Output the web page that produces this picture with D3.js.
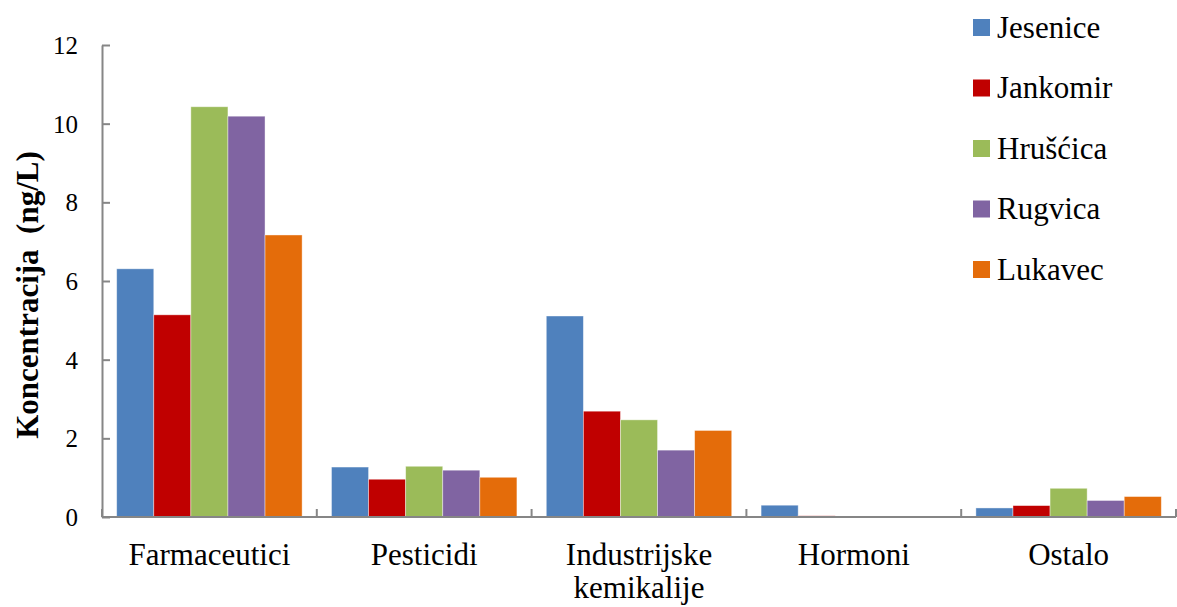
<!DOCTYPE html>
<html><head><meta charset="utf-8">
<script src="https://cdn.jsdelivr.net/npm/d3@7"></script>
</head><body style="margin:0;background:#fff"><svg id="c" width="1177" height="607" style="display:block"></svg>
<script>
const categories = ["Farmaceutici","Pesticidi","Industrijske kemikalije","Hormoni","Ostalo"];
const seriesNames = ["Jesenice","Jankomir","Hrušćica","Rugvica","Lukavec"];
const Jesenice = [6.31, 1.27, 5.11, 0.30, 0.23];
const Jankomir = [5.14, 0.96, 2.69, 0.03, 0.29];
const Hruscica = [10.43, 1.29, 2.47, 0.01, 0.73];
const Rugvica  = [10.19, 1.19, 1.70, 0.02, 0.42];
const Lukavec  = [7.17, 1.01, 2.20, 0.005, 0.52];
const yTicks = [0, 2, 4, 6, 8, 10, 12];
const colors = ["#4F81BD","#C00000","#9BBB59","#8064A2","#E46C0A"];
const seriesValues = [Jesenice, Jankomir, Hruscica, Rugvica, Lukavec];

const FONT = '"Liberation Serif", Tinos, "Times New Roman", serif';
function serif(sel, size, weight) {
  sel.each(function () {
    this.style.setProperty("font-family", FONT, "important");
    this.style.setProperty("font-size", size + "px", "important");
    if (weight) this.style.setProperty("font-weight", weight, "important");
  });
  return sel;
}

const svg = d3.select("#c");
const x0 = d3.scaleBand().domain(categories).range([102, 1176]).paddingInner(0).paddingOuter(0);
const x1 = d3.scaleBand().domain(seriesNames).range([0, x0.bandwidth()]).paddingInner(0).paddingOuter(0.396);
const y = d3.scaleLinear().domain([0, 12]).range([517, 45]);

// text first (titles, labels, legend)
categories.forEach(c => {
  const words = c === "Industrijske kemikalije" ? ["Industrijske", "kemikalije"] : [c];
  const cx = x0(c) + x0.bandwidth() / 2;
  const t = svg.append("text").attr("x", cx).attr("y", 565).attr("text-anchor", "middle").attr("fill", "#000");
  serif(t, 31);
  words.forEach((w, i) => t.append("tspan").attr("x", cx).attr("dy", i ? 33 : 0).text(w));
});

serif(svg.append("text").attr("transform", "translate(38,295) rotate(-90)")
  .attr("text-anchor", "middle").attr("fill", "#000")
  .style("white-space", "pre").text("Koncentracija  (ng/L)"), 31, "bold");

seriesNames.forEach((s, i) => {
  const cy = 27.5 + i * 60.5;
  svg.append("rect").attr("x", 973).attr("y", cy - 8.5).attr("width", 17).attr("height", 17).attr("fill", colors[i]);
  serif(svg.append("text").attr("x", 997).attr("y", cy + 10).attr("fill", "#000").text(s), 31);
});

// bars
categories.forEach((c, ci) => {
  const g = svg.append("g").attr("transform", `translate(${x0(c)},0)`);
  seriesNames.forEach((s, si) => {
    const v = seriesValues[si][ci];
    g.append("rect")
      .attr("x", x1(s)).attr("width", x1.bandwidth())
      .attr("y", y(v)).attr("height", y(0) - y(v))
      .attr("fill", colors[si])
      .attr("stroke", "#ffffff").attr("stroke-opacity", 0.5).attr("stroke-width", 0.8);
  });
});

// y axis
const yAxis = d3.axisLeft(y).tickValues(yTicks).tickSizeInner(-8).tickSizeOuter(0).tickPadding(24);
const ya = svg.append("g").attr("transform", "translate(102,0)").call(yAxis);
ya.attr("font-family", null).attr("font-size", null);
ya.selectAll("path,line").attr("stroke", "#868686").attr("stroke-width", 2);
serif(ya.selectAll("text").attr("fill", "#000").attr("dy", "0.34em"), 25);

// x axis
const boundaries = categories.map(c => x0(c)).concat([x0.range()[1]]);
svg.append("line").attr("x1", 102).attr("x2", 1176).attr("y1", y(0)).attr("y2", y(0))
  .attr("stroke", "#868686").attr("stroke-width", 2);
svg.selectAll(".xt").data(boundaries).join("line")
  .attr("x1", d => d).attr("x2", d => d).attr("y1", y(0)).attr("y2", y(0) - 8)
  .attr("stroke", "#868686").attr("stroke-width", 2);
</script></body></html>
